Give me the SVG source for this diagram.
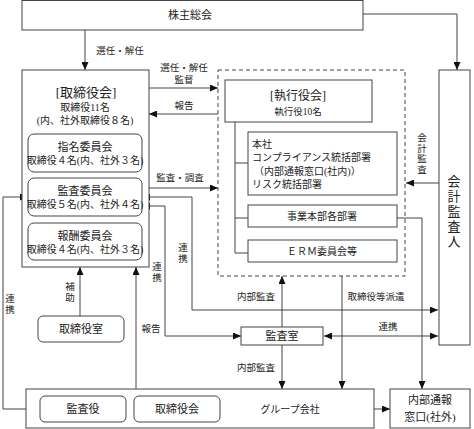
<svg xmlns="http://www.w3.org/2000/svg" width="474" height="429" viewBox="0 0 474 429">
<defs>
<marker id="ah" viewBox="0 0 8 7" markerWidth="8" markerHeight="7" refX="8" refY="3.5" orient="auto-start-reverse" markerUnits="userSpaceOnUse">
<path d="M0,0 L8,3.5 L0,7 z" fill="#111"/>
</marker>
<style>
.b{fill:#fff;stroke:#444;stroke-width:1}
.r{fill:#fff;stroke:#444;stroke-width:1}
.c{fill:none;stroke:#444;stroke-width:1}
.a{fill:none;stroke:#444;stroke-width:1;marker-end:url(#ah)}
.aa{fill:none;stroke:#444;stroke-width:1;marker-start:url(#ah);marker-end:url(#ah)}
text{font-family:"Liberation Serif","Noto Sans CJK JP",serif;fill:#222;text-anchor:middle}
.s{font-size:9.5px}
.m{font-size:10px}
.l{font-size:11px}
.t{font-size:13px}
.lt{text-anchor:start}
</style>
</defs>
<rect width="474" height="429" fill="#fff"/>

<g id="connectors">
<line class="a" x1="85" y1="30" x2="85" y2="70"/>
<polyline class="a" points="363,14 457,14 457,70"/>
<line class="a" x1="149" y1="88" x2="218" y2="88"/>
<line class="a" x1="218" y1="114" x2="149" y2="114"/>
<line class="a" x1="142" y1="188" x2="218" y2="188"/>
<line class="a" x1="439" y1="183" x2="406" y2="183"/>
<polyline class="aa" points="142,197 192,197 192,310 438,310"/>
<polyline class="aa" points="142,206 165,206 165,336 241,336"/>
<polyline class="aa" points="28,197 3,197 3,409 40,409"/>
<line class="a" x1="80" y1="316" x2="80" y2="267"/>
<line class="a" x1="136" y1="389" x2="136" y2="267"/>
<line class="a" x1="282" y1="327" x2="282" y2="276"/>
<line class="a" x1="282" y1="345" x2="282" y2="389"/>
<line class="a" x1="342" y1="276" x2="342" y2="389"/>
<line class="aa" x1="324" y1="336" x2="438" y2="336"/>
<polyline class="a" points="397,218 422,218 422,389"/>
<line class="a" x1="374" y1="409" x2="390" y2="409"/>
<polyline class="c" points="235,122 235,253 248,253"/>
<line class="c" x1="235" y1="163" x2="248" y2="163"/>
<line class="c" x1="235" y1="218" x2="248" y2="218"/>
</g>

<g id="labels">
<text class="s" x="120" y="54">選任・解任</text>
<text class="s" x="184" y="71">選任・解任</text>
<text class="s" x="184" y="83">監督</text>
<text class="s" x="184" y="109">報告</text>
<text class="s" x="180" y="181">監査・調査</text>
<text class="s" x="151" y="332">報告</text>
<text class="s" x="256" y="300">内部監査</text>
<text class="s" x="256" y="371">内部監査</text>
<text class="s" x="376" y="300">取締役等派遣</text>
<text class="s" x="388" y="330">連携</text>
<text class="s" x="422"><tspan x="422" y="141">会</tspan><tspan x="422" y="151.5">計</tspan><tspan x="422" y="162">監</tspan><tspan x="422" y="172.5">査</tspan></text>
<text class="s" x="10"><tspan x="10" y="302">連</tspan><tspan x="10" y="312.5">携</tspan></text>
<text class="s" x="70"><tspan x="70" y="290">補</tspan><tspan x="70" y="300.5">助</tspan></text>
<text class="s" x="157"><tspan x="157" y="270">連</tspan><tspan x="157" y="280.5">携</tspan></text>
<text class="s" x="183"><tspan x="183" y="251">連</tspan><tspan x="183" y="261.5">携</tspan></text>
</g>

<g id="shareholders">
<rect class="b" x="22" y="0.5" width="341" height="29.5"/>
<text class="l" x="190" y="19">株主総会</text>
</g>

<g id="board">
<rect class="b" x="22" y="70" width="127" height="197"/>
<text class="t" x="86" y="97">[取締役会]</text>
<text class="m" x="85" y="111">取締役11名</text>
<text class="m" x="85" y="124">(内、社外取締役８名)</text>
</g>

<g id="nomination">
<rect class="r" x="28" y="134" width="114" height="38" rx="6"/>
<text class="l" x="85" y="151">指名委員会</text>
<text class="m" x="85" y="164">取締役４名(内、社外３名)</text>
</g>

<g id="audit-committee">
<rect class="r" x="28" y="178" width="114" height="38" rx="6"/>
<text class="l" x="85" y="195">監査委員会</text>
<text class="m" x="85" y="208">取締役５名(内、社外４名)</text>
</g>

<g id="compensation">
<rect class="r" x="28" y="223" width="114" height="37" rx="6"/>
<text class="l" x="85" y="240">報酬委員会</text>
<text class="m" x="85" y="253">取締役４名(内、社外３名)</text>
</g>

<g id="execution-area">
<rect x="218" y="70" width="187" height="206" fill="none" stroke="#444" stroke-width="1" stroke-dasharray="4,3"/>
</g>

<g id="exec-board">
<rect class="b" x="225" y="80" width="147" height="42"/>
<text class="l" x="298" y="100" style="font-size:12px">[執行役会]</text>
<text class="s" x="298" y="115">執行役10名</text>
</g>

<g id="hq">
<rect class="b" x="248" y="132" width="149" height="63"/>
<text class="m lt" x="252" y="148">本社</text>
<text class="m lt" x="252" y="161">コンプライアンス統括部署</text>
<text class="m lt" x="254" y="175">（内部通報窓口(社内)）</text>
<text class="m lt" x="252" y="188">リスク統括部署</text>
</g>

<g id="business-units">
<rect class="b" x="248" y="205" width="149" height="22"/>
<text class="m" x="322" y="220">事業本部各部署</text>
</g>

<g id="erm">
<rect class="b" x="248" y="240" width="149" height="22"/>
<text class="m" x="322" y="255">ＥＲＭ委員会等</text>
</g>

<g id="auditor">
<rect class="b" x="439" y="70" width="31" height="275"/>
<text class="t" x="454"><tspan x="454" y="186">会</tspan><tspan x="454" y="201">計</tspan><tspan x="454" y="216">監</tspan><tspan x="454" y="231">査</tspan><tspan x="454" y="246">人</tspan></text>
</g>

<g id="board-office">
<rect class="r" x="38" y="316" width="86" height="26" rx="5"/>
<text class="l" x="81" y="333">取締役室</text>
</g>

<g id="audit-office">
<rect class="b" x="241" y="327" width="82" height="18"/>
<text class="l" x="282" y="340">監査室</text>
</g>

<g id="group">
<rect class="b" x="26" y="389" width="348" height="39"/>
<text class="m" x="290" y="413">グループ会社</text>
</g>

<g id="group-auditor">
<rect class="r" x="40" y="396" width="86" height="26" rx="5"/>
<text class="l" x="83" y="413">監査役</text>
</g>

<g id="group-board">
<rect class="r" x="134" y="396" width="86" height="26" rx="5"/>
<text class="l" x="177" y="413">取締役会</text>
</g>

<g id="hotline">
<rect class="b" x="390" y="389" width="80" height="39"/>
<text class="l" x="430" y="404">内部通報</text>
<text class="l" x="430" y="421">窓口(社外)</text>
</g>
</svg>
